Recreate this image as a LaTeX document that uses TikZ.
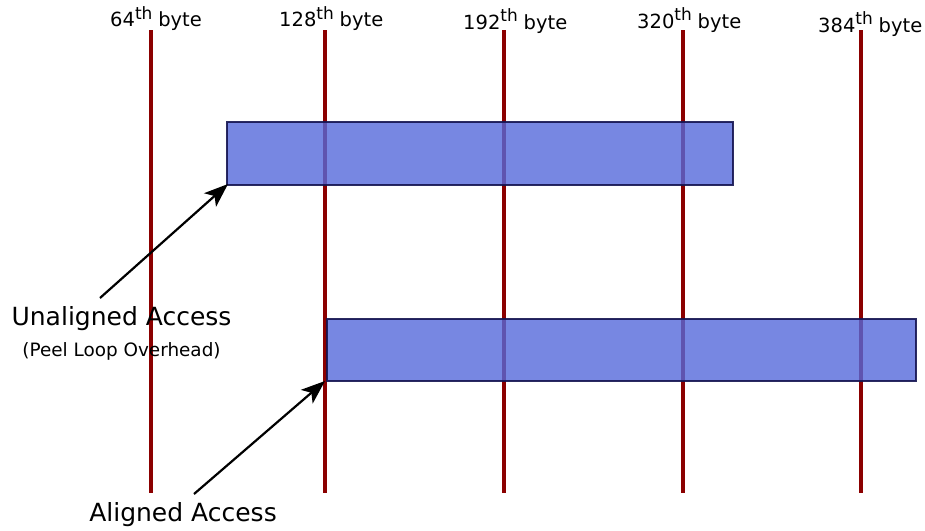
\documentclass[tikz,border=0pt]{standalone}
\usepackage{fontspec}
\setmainfont{DejaVu Sans}
\usetikzlibrary{arrows.meta}
\definecolor{linered}{RGB}{139,0,0}
\definecolor{barfill}{RGB}{85,105,219}
\definecolor{barborder}{RGB}{20,20,80}
\newcommand{\bytelabel}[1]{#1\raisebox{7.5pt}{\fontsize{17}{17}\selectfont th}\hspace{0.3em}byte}
\begin{document}
\begin{tikzpicture}[x=1pt,y=-1pt,
  boundary/.style={draw=linered,line width=3.5pt},
  toplabel/.style={anchor=base west,inner sep=0pt,font=\fontsize{19.5}{19.5}\selectfont},
  bar/.style={draw=barborder,line width=1.6pt,fill=barfill,fill opacity=0.8,draw opacity=0.9},
  bigtext/.style={anchor=base,inner sep=0pt,font=\fontsize{25}{25}\selectfont},
  smalltext/.style={anchor=base,inner sep=0pt,font=\fontsize{18.4}{18.4}\selectfont},
  pointer/.style={draw=black,line width=2.2pt,-{Stealth[length=24pt 0,width=18pt 0,inset=6pt 0]}}]
\useasboundingbox (0,0) rectangle (925,530);
% boundary lines
\foreach \n/\x in {a/151,b/325,c/504,d/683,e/861}{
  \coordinate (\n top) at (\x,30);
  \coordinate (\n bot) at (\x,493);
  \draw[boundary] (\n top) -- (\n bot);
}
% labels
\node[toplabel] (l64) at (110,27) {\bytelabel{64}};
\node[toplabel] (l128) at (279,27) {\bytelabel{128}};
\node[toplabel] (l192) at (463,29) {\bytelabel{192}};
\node[toplabel] (l320) at (637,28) {\bytelabel{320}};
\node[toplabel] (l384) at (818,32) {\bytelabel{384}};
% bars
\draw[bar] (227,122) rectangle (733,185);
\coordinate (bar1sw) at (228,184);
\draw[bar] (327,319) rectangle (916,381);
\coordinate (bar2sw) at (325,381);
% texts
\node[bigtext] (ua) at (121.5,325) {Unaligned Access};
\node[smalltext] (plo) at (121.5,356) {(Peel Loop Overhead)};
\node[bigtext] (aa) at (183,521) {Aligned Access};
% arrows
\coordinate (t1) at (100,298);
\coordinate (t2) at (194,494);
\draw[pointer] (t1) -- (bar1sw);
\draw[pointer] (t2) -- (bar2sw);
\end{tikzpicture}
\end{document}
